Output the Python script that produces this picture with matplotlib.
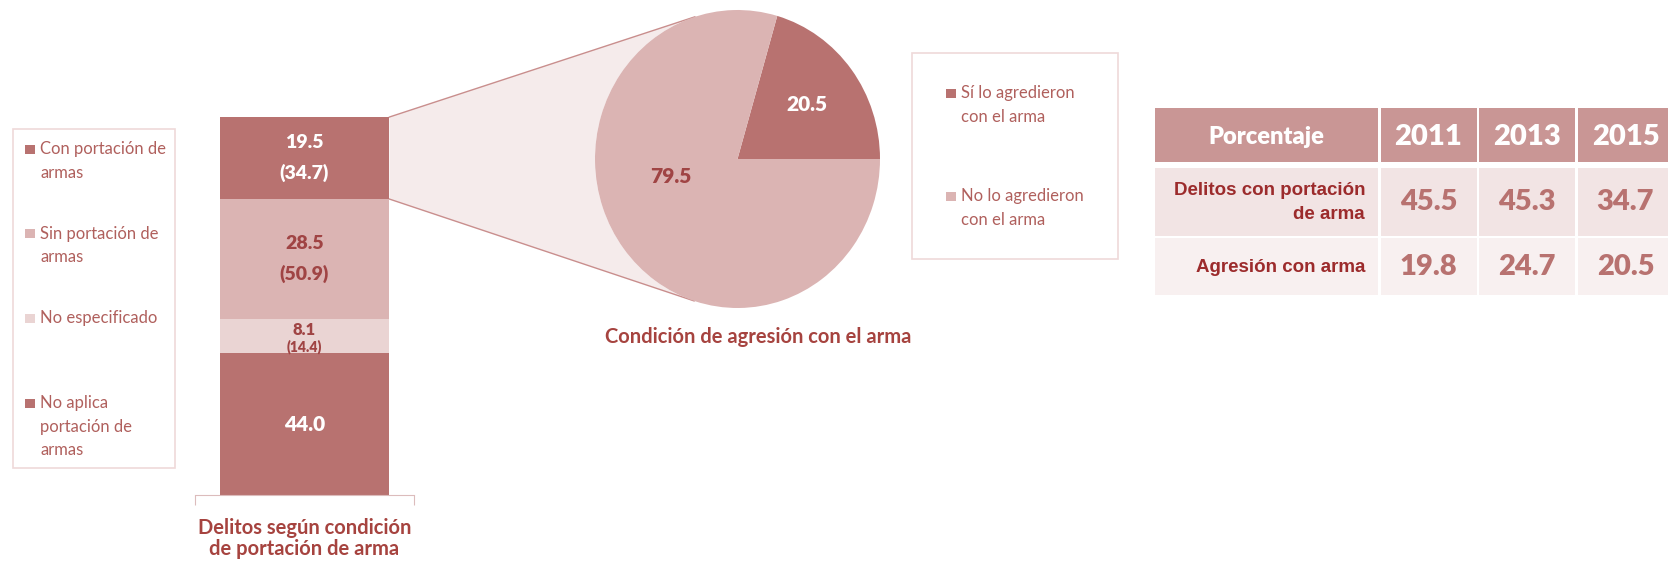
import numpy as np
import matplotlib.pyplot as plt
from matplotlib.patches import Rectangle, Polygon

plt.rcParams['font.family'] = ['Lato', 'DejaVu Sans']

W, H = 1669, 563

# bar of pie data
bar_series = ["Con portación de\narmas", "Sin portación de\narmas",
              "No especificado", "No aplica\nportación de\narmas"]
bar_values = [19.5, 28.5, 8.1, 44.0]
bar_shares = [34.7, 50.9, 14.4, None]
bar_title = "Delitos según condición\nde portación de arma"

pie_labels = ["Sí lo agredieron\ncon el arma", "No lo agredieron\ncon el arma"]
pie_values = [20.5, 79.5]
pie_title = "Condición de agresión con el arma"

table_head = "Porcentaje"
table_years = ["2011", "2013", "2015"]
table_rows = ["Delitos con portación\nde arma", "Agresión con arma"]
table_vals = [[45.5, 45.3, 34.7],
              [19.8, 24.7, 20.5]]

dark = '#b87270'
light = '#dbb4b3'
pale = '#ead4d3'
bar_colors = [dark, light, pale, dark]
bar_text = ['white', '#a04444', '#a04444', 'white']
pie_colors = [dark, light]
pie_text = ['white', '#a04444']
legend_txt = '#b0605d'
title_col = '#a6433f'
frame_col = '#efd9d9'
num_weight = 'heavy'


def fx(x):
    return x / W


def fy(y):
    return 1 - y / H


fig = plt.figure(figsize=(W / 100, H / 100), dpi=100)

# ---- stacked bar ----
axb = fig.add_axes([fx(195), fy(495), 219 / W, 378 / H], zorder=2)
axb.patch.set_visible(False)
bottom = 0
rects = []
for lab, val, col in zip(bar_series[::-1], bar_values[::-1], bar_colors[::-1]):
    r = axb.bar(0, val, width=0.776, bottom=bottom, color=col, linewidth=0)[0]
    rects.append(r)
    bottom += val
rects = rects[::-1]
total = bottom
axb.set_xlim(-0.5, 0.5)
axb.set_ylim(10.3, total)
for s in ['top', 'left', 'right']:
    axb.spines[s].set_visible(False)
axb.spines['bottom'].set_color('#dcbcbc')
axb.set_yticks([])
axb.set_xticks([-0.5, 0.5])
axb.set_xticklabels([])
axb.tick_params(axis='x', length=7, color='#dcbcbc', direction='out')
axb.set_xlabel(bar_title, fontsize=14.5, fontweight='bold', color=title_col,
               labelpad=6, linespacing=1.05)

y0 = axb.get_ylim()[0]
for r, val, share, tc in zip(rects, bar_values, bar_shares, bar_text):
    lo = max(r.get_y(), y0)
    hi = r.get_y() + r.get_height()
    yc = (lo + hi) / 2
    seg_px = (hi - lo) * 378 / (total - y0)
    if share is None:
        axb.text(0, yc, f"{val:.1f}", ha='center', va='center', fontsize=15,
                 fontweight=num_weight, color=tc)
    elif seg_px > 60:
        axb.annotate(f"{val:.1f}", (0, yc), xytext=(0, 11), textcoords='offset points',
                     ha='center', va='center', fontsize=14, fontweight=num_weight, color=tc)
        axb.annotate(f"({share:.1f})", (0, yc), xytext=(0, -10.5), textcoords='offset points',
                     ha='center', va='center', fontsize=14, fontweight=num_weight, color=tc)
    else:
        axb.annotate(f"{val:.1f}", (0, yc), xytext=(0, 4.5), textcoords='offset points',
                     ha='center', va='center', fontsize=12, fontweight=num_weight, color=tc)
        axb.annotate(f"({share:.1f})", (0, yc), xytext=(0, -7.5), textcoords='offset points',
                     ha='center', va='center', fontsize=10, fontweight=num_weight, color=tc)

# ---- pie ----
axp = fig.add_axes([fx(595), fy(308), 285 / W, 298 / H], zorder=2)
wedges, _ = axp.pie(pie_values, colors=pie_colors, startangle=0, counterclock=True,
                    radius=1, wedgeprops=dict(linewidth=0))
axp.set_xlim(-1, 1)
axp.set_ylim(-1, 1)
axp.set_aspect('auto')
axp.patch.set_visible(False)
label_pos = [(0.61, 0.0), (0.48, -23.0)]  # radius, angle shift from wedge middle
for w, val, tc, (rr, shift) in zip(wedges, pie_values, pie_text, label_pos):
    ang = np.radians((w.theta1 + w.theta2) / 2 + shift)
    axp.text(rr * np.cos(ang), rr * np.sin(ang), f"{val:.1f}", ha='center', va='center',
             fontsize=15, fontweight=num_weight, color=tc)
fig.text(fx(758), fy(337), pie_title, ha='center', va='center', fontsize=14.5,
         fontweight='bold', color=title_col)

# ---- connector between top segment and pie ----
fig.canvas.draw()
top = rects[0]
bx = top.get_x() + top.get_width()
p_hi = axb.transData.transform((bx, top.get_y() + top.get_height()))
p_lo = axb.transData.transform((bx, top.get_y()))
c = axp.transData.transform((0, 0))
rx = axp.transData.transform((1, 0))[0] - c[0]
ry = axp.transData.transform((0, 1))[1] - c[1]


def tangent(p, upper):
    q = np.array([(p[0] - c[0]) / rx, (p[1] - c[1]) / ry])
    d = np.hypot(*q)
    phi = np.arctan2(q[1], q[0])
    a = np.arccos(1 / d)
    t = phi - a if upper else phi + a
    return t % (2 * np.pi)


t_hi = tangent(p_hi, True)
t_lo = tangent(p_lo, False)
arc = np.linspace(t_hi, t_lo, 80)
arc_pts = np.column_stack([c[0] + rx * np.cos(arc), c[1] + ry * np.sin(arc)])
pts = np.vstack([p_hi, arc_pts, p_lo])
inv = fig.transFigure.inverted()
pts_f = inv.transform(pts)
fig.add_artist(Polygon(pts_f, closed=True, transform=fig.transFigure,
                       facecolor='#f5ebeb', edgecolor='none', zorder=1))
for p, q in [(pts_f[0], pts_f[1]), (pts_f[-1], pts_f[-2])]:
    fig.add_artist(plt.Line2D([p[0], q[0]], [p[1], q[1]], transform=fig.transFigure,
                              color='#c98e8d', lw=1, zorder=1))


# ---- legends ----
def draw_legend(box, labels, colors, first_y, step, line_h, sq_x, txt_x):
    x0, y0, x1, y1 = box
    fig.add_artist(Rectangle((fx(x0), fy(y1)), (x1 - x0) / W, (y1 - y0) / H,
                             transform=fig.transFigure, fill=False,
                             edgecolor=frame_col, lw=1.2))
    for i, (lab, col) in enumerate(zip(labels, colors)):
        yc = first_y + i * step
        fig.add_artist(Rectangle((fx(sq_x), fy(yc + 4.5)), 9.5 / W, 9 / H,
                                 transform=fig.transFigure, facecolor=col, edgecolor='none'))
        for j, line in enumerate(lab.split('\n')):
            fig.text(fx(txt_x), fy(yc + j * line_h), line, ha='left', va='center',
                     fontsize=12, color=legend_txt)


draw_legend((13, 129, 175, 468), bar_series, bar_colors, 149, 84.7, 23.5, 25, 40)
draw_legend((912, 53, 1118, 259), pie_labels, pie_colors, 93, 103, 24, 946, 961)

# ---- table ----
axt = fig.add_axes([fx(1155), fy(295), (W - 1155) / W, (295 - 108) / H])
axt.set_xlim(0, W - 1155)
axt.set_ylim(187.5, 0)
axt.axis('off')
col_w = [223, 96, 96, 90]
row_h = [54, 68, 57]
gap_c = 2.5
gap_r = [6, 2.5]
row_bg = ['#c99695', '#f2e4e4', '#f8f0f0']
xs = np.concatenate([[0], np.cumsum(np.array(col_w[:-1]) + gap_c)])
ys = [0, row_h[0] + gap_r[0], row_h[0] + gap_r[0] + row_h[1] + gap_r[1]]

header = [table_head] + table_years
body = [[lab] + [f"{v:.1f}" for v in vals] for lab, vals in zip(table_rows, table_vals)]
cells = [header] + body
for r, row in enumerate(cells):
    for k, txt in enumerate(row):
        axt.add_patch(Rectangle((xs[k], ys[r]), col_w[k], row_h[r], facecolor=row_bg[r],
                                edgecolor='none'))
        yc = ys[r] + row_h[r] / 2
        if r == 0:
            fs = 17 if k == 0 else 21
            axt.text(xs[k] + col_w[k] / 2 + (0 if k < 3 else 3), yc + 2, txt, ha='center',
                     va='center', fontsize=fs, fontweight=num_weight, color='white')
        elif k == 0:
            axt.text(xs[k] + col_w[k] - 13, yc + 1, txt, ha='right', va='center',
                     multialignment='right', fontsize=13.5, fontweight='bold',
                     color='#9c2b2c', family=['Liberation Sans', 'DejaVu Sans'],
                     linespacing=1.5)
        else:
            axt.text(xs[k] + col_w[k] / 2 + (0 if k < 3 else 3), yc, txt, ha='center',
                     va='center', fontsize=21, fontweight=num_weight, color=dark)

fig.savefig('out.png', dpi=100)
